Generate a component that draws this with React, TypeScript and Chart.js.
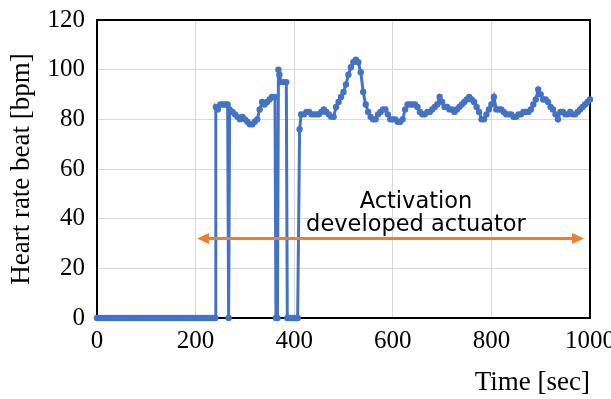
import { useEffect, useRef } from 'react';
import { Chart, registerables } from 'chart.js';

Chart.register(...registerables);

// ---- data (time in seconds, heart rate in bpm) ----
const timeSec = [
  0, 5, 10, 15, 20, 25, 30, 35, 40, 45, 50, 55, 60, 65, 70, 75, 80, 85, 90, 95,
  100, 105, 110, 115, 120, 125, 130, 135, 140, 145, 150, 155, 160, 165, 170, 175, 180, 185, 190, 195,
  200, 205, 210, 215, 220, 225, 230, 235, 240,
  241, 245, 250, 255, 260, 265, 267, 269, 275, 280, 285, 290, 295, 300, 305, 310, 315, 320, 325, 330,
  335, 340, 345, 350, 355, 361, 363, 366, 368, 370, 373, 378, 384, 386, 390, 395, 400, 405, 407, 411,
  414, 420, 425, 430, 435, 440, 445, 450, 455, 460, 465, 470, 475, 480, 485, 490, 495, 500, 505, 510,
  515, 520, 525, 530, 535, 540, 545, 550, 555, 560, 565, 570, 575, 580, 585, 590, 595, 600, 605, 610,
  615, 620, 625, 630, 635, 640, 645, 650, 655, 660, 665, 670, 675, 680, 685, 690, 695, 700, 705, 710,
  715, 720, 725, 730, 735, 740, 745, 750, 755, 760, 765, 770, 775, 780, 785, 790, 795, 800, 805, 810,
  815, 820, 825, 830, 835, 840, 845, 850, 855, 860, 865, 870, 875, 880, 885, 890, 895, 900, 905, 910,
  915, 920, 925, 930, 935, 940, 945, 950, 955, 960, 965, 970, 975, 980, 985, 990, 995, 1000,
];

const heartRate = [
  0, 0, 0, 0, 0, 0, 0, 0, 0, 0, 0, 0, 0, 0, 0, 0, 0, 0, 0, 0,
  0, 0, 0, 0, 0, 0, 0, 0, 0, 0, 0, 0, 0, 0, 0, 0, 0, 0, 0, 0,
  0, 0, 0, 0, 0, 0, 0, 0, 0,
  85, 84, 86, 86, 86, 86, 0, 84, 83, 82, 81, 80, 81, 80, 79, 78, 78, 79, 80, 84,
  87, 86, 87, 88, 89, 89, 0, 0, 100, 98, 95, 95, 95, 0, 0, 0, 0, 0, 0, 76,
  82, 82, 83, 83, 82, 82, 82, 82, 83, 84, 83, 82, 81, 81, 85, 87, 89, 91, 94, 98,
  101, 103, 104, 103, 99, 91, 86, 83, 81, 80, 80, 82, 83, 84, 84, 82, 80, 80, 80, 79,
  79, 80, 84, 86, 86, 86, 86, 85, 83, 82, 82, 83, 83, 84, 85, 86, 89, 87, 85, 85,
  84, 84, 83, 84, 85, 86, 87, 88, 89, 88, 87, 85, 83, 80, 80, 82, 84, 86, 89, 84,
  84, 84, 83, 82, 82, 82, 81, 81, 82, 82, 83, 83, 83, 84, 86, 88, 92, 90, 88, 88,
  87, 85, 84, 82, 80, 83, 83, 82, 82, 83, 82, 82, 83, 84, 85, 86, 87, 88,
];

const xTickValues = [0, 200, 400, 600, 800, 1000];
const yTickValues = [0, 20, 40, 60, 80, 100, 120];

const xTitle = 'Time [sec]';
const yTitle = 'Heart rate beat [bpm]';

const noteLines = ['Activation', 'developed actuator'];
const noteCenterTime = 647;
const noteLevels = [46.8, 37.3];
const arrowStartTime = 203;
const arrowEndTime = 988;
const arrowLevel = 32;

const SERIF = '"Liberation Serif", "Times New Roman", serif';
const SANS = '"DejaVu Sans", "Noto Sans", sans-serif';

export default function App() {
  const ref = useRef<HTMLCanvasElement | null>(null);

  useEffect(() => {
    document.body.style.margin = '0';
    const canvas = ref.current;
    if (!canvas) return;

    const framePlugin = {
      id: 'frame',
      beforeDatasetsDraw(chart: any) {
        const { ctx, chartArea } = chart;
        const { left, top, right, bottom } = chartArea;
        ctx.save();
        ctx.strokeStyle = '#000';
        ctx.lineWidth = 2;
        ctx.strokeRect(left, top, right - left, bottom - top);
        ctx.restore();
      },
    };

    const notePlugin = {
      id: 'note',
      afterDatasetsDraw(chart: any) {
        const { ctx } = chart;
        const xs = chart.scales.x;
        const ys = chart.scales.y;
        ctx.save();
        ctx.fillStyle = '#000';
        ctx.font = `22.5px ${SANS}`;
        ctx.textAlign = 'center';
        ctx.textBaseline = 'middle';
        const cx = xs.getPixelForValue(noteCenterTime);
        noteLines.forEach((line, i) => {
          ctx.fillText(line, cx, ys.getPixelForValue(noteLevels[i]));
        });
        const x1 = xs.getPixelForValue(arrowStartTime);
        const x2 = xs.getPixelForValue(arrowEndTime);
        const y = ys.getPixelForValue(arrowLevel);
        const head = 12;
        const half = 5.5;
        ctx.strokeStyle = '#ED7D31';
        ctx.fillStyle = '#ED7D31';
        ctx.lineWidth = 3;
        ctx.beginPath();
        ctx.moveTo(x1 + head - 1, y);
        ctx.lineTo(x2 - head + 1, y);
        ctx.stroke();
        ctx.beginPath();
        ctx.moveTo(x1, y);
        ctx.lineTo(x1 + head, y - half);
        ctx.lineTo(x1 + head, y + half);
        ctx.closePath();
        ctx.fill();
        ctx.beginPath();
        ctx.moveTo(x2, y);
        ctx.lineTo(x2 - head, y - half);
        ctx.lineTo(x2 - head, y + half);
        ctx.closePath();
        ctx.fill();
        ctx.restore();
      },
    };

    const points = timeSec.map((t, i) => ({ x: t, y: heartRate[i] }));

    const chart = new Chart(canvas, {
      type: 'line',
      data: {
        datasets: [
          {
            data: points,
            borderColor: '#4472C4',
            backgroundColor: '#4472C4',
            borderWidth: 3,
            pointRadius: 3.2,
            pointBorderWidth: 0,
            pointHoverRadius: 0,
            tension: 0,
            clip: false as any,
          },
        ],
      },
      options: {
        animation: false,
        responsive: true,
        maintainAspectRatio: false,
        events: [],
        layout: { padding: { left: 0, right: 21, top: 20, bottom: 0 } },
        plugins: {
          legend: { display: false },
          tooltip: { enabled: false },
        },
        scales: {
          x: {
            type: 'linear',
            min: 0,
            max: 1000,
            afterBuildTicks: (scale: any) => {
              scale.ticks = xTickValues.map((v) => ({ value: v }));
            },
            ticks: {
              color: '#000',
              font: { family: SERIF, size: 25 },
              padding: 8,
              maxRotation: 0,
              autoSkip: false,
              callback: (v: any) => String(v),
            },
            grid: { color: '#d9d9d9', lineWidth: 1, drawTicks: false },
            border: { display: false },
            title: {
              display: true,
              text: xTitle,
              align: 'end',
              color: '#000',
              font: { family: SERIF, size: 27, lineHeight: 1.2 },
              padding: { top: 0, bottom: 0 },
            },
            afterFit: (scale: any) => {
              scale.height = 81;
              scale.paddingLeft = 0;
              scale.paddingRight = 0;
            },
          },
          y: {
            type: 'linear',
            min: 0,
            max: 120,
            afterBuildTicks: (scale: any) => {
              scale.ticks = yTickValues.map((v) => ({ value: v }));
            },
            ticks: {
              color: '#000',
              font: { family: SERIF, size: 25 },
              padding: 12,
              callback: (v: any) => String(v),
            },
            grid: { color: '#d9d9d9', lineWidth: 1, drawTicks: false },
            border: { display: false },
            title: {
              display: true,
              text: yTitle,
              color: '#000',
              font: { family: SERIF, size: 27, lineHeight: 1.2 },
              padding: { top: 6, bottom: 0 },
            },
            afterFit: (scale: any) => {
              scale.width = 97;
              scale.paddingTop = 0;
              scale.paddingBottom = 0;
            },
          },
        },
      } as any,
      plugins: [framePlugin, notePlugin],
    });

    return () => chart.destroy();
  }, []);

  return (
    <div style={{ width: 611, height: 399, position: 'relative' }}>
      <canvas ref={ref} />
    </div>
  );
}
